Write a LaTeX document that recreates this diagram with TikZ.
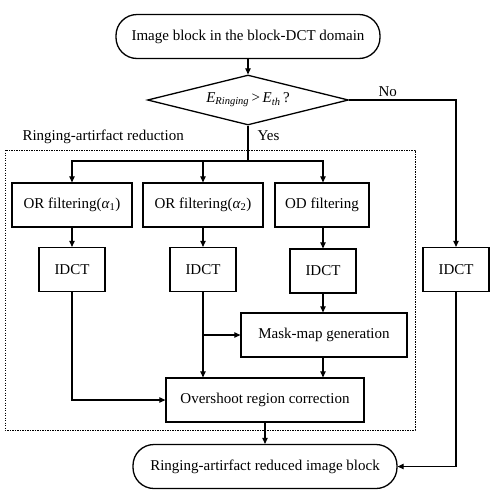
\documentclass[tikz,border=0pt]{standalone}
\usepackage{fontspec}
\setmainfont{Liberation Serif}
\usetikzlibrary{shapes.geometric,arrows.meta}
\begin{document}
\begin{tikzpicture}[x=1pt,y=-1pt,
  font=\fontsize{15}{17}\selectfont,
  line width=1.1pt,
  box/.style={draw, line width=1.3pt, inner sep=0pt, minimum height=44pt},
  term/.style={draw, line width=1.3pt, inner sep=0pt, minimum height=44pt, rounded corners=21pt},
  arr/.style={-{Triangle[length=6pt,width=5.5pt]}},
  lbl/.style={inner sep=0pt}]
\useasboundingbox (0,0) rectangle (492,496);
\node[term, minimum width=264pt] (start) at (248,36.5) {Image block in the block-DCT domain};
\node[draw, line width=1.3pt, diamond, aspect=4, inner sep=0pt, minimum width=201pt, minimum height=50pt] (dec) at (248,100)
  {\textit{E}\textsubscript{\textit{Ringing}}\,>\,\textit{E}\textsubscript{\textit{th}}\,?};
\node[box, minimum width=120pt] (or1) at (72,205) {OR filtering(\textit{α}\textsubscript{1})};
\node[box, minimum width=120pt] (or2) at (203,205) {OR filtering(\textit{α}\textsubscript{2})};
\node[box, minimum width=94pt] (od) at (322,205) {OD filtering};
\node[box, minimum width=66pt] (i1) at (72,269.5) {IDCT};
\node[box, minimum width=66pt] (i2) at (203,269.5) {IDCT};
\node[box, minimum width=66pt] (i3) at (323,271) {IDCT};
\node[box, minimum width=66pt] (i4) at (456,269.5) {IDCT};
\node[box, minimum width=166pt] (mask) at (324,335) {Mask-map generation};
\node[box, minimum width=198pt] (over) at (265,400) {Overshoot region correction};
\node[term, minimum width=264pt] (end) at (265,466.5) {Ringing-artirfact reduced image block};
\draw[line width=0.9pt, dash pattern=on 1.2pt off 1.3pt] (5,150) rectangle (415,430);
\node[lbl, anchor=base west] (rlab) at (22,140) {Ringing-artirfact reduction};
\node[lbl, anchor=base west] (yes) at (257,140) {Yes};
\node[lbl, anchor=base west] (no) at (378,96) {No};
\coordinate (split) at (248,161);
\draw[arr] (start) -- (dec);
\draw (dec.south) -- (split);
\draw[arr] (split) -| (or1.north);
\draw[arr] (split) -| (or2.north);
\draw[arr] (split) -| (od.north -| i3);
\draw[arr] (dec.east) -| (i4.north);
\draw[arr] (or1) -- (i1);
\draw[arr] (or2) -- (i2);
\draw[arr] (od.south -| i3) -- (i3);
\draw[arr] (i3) -- (i3 |- mask.north);
\draw[arr] (i2.south) -- (i2.south |- over.north);
\draw[arr] (i2.south |- mask.west) -- (mask.west);
\draw[arr] (mask.south -| i3) -- (i3 |- over.north);
\draw[arr] (i1.south) |- (over.west);
\draw[arr] (over) -- (end);
\draw[arr] (i4.south) |- (end.east);
\end{tikzpicture}
\end{document}
